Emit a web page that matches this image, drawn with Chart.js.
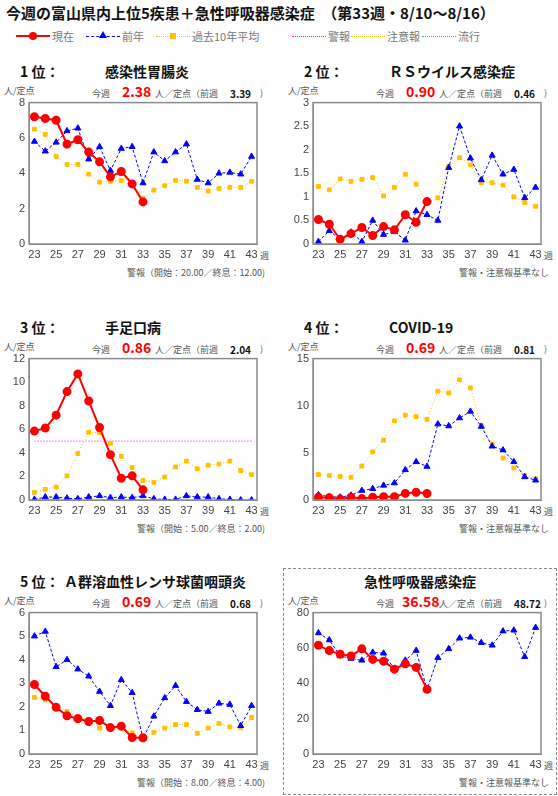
<!DOCTYPE html>
<html>
<head>
<meta charset="utf-8">
<script src="https://cdn.jsdelivr.net/npm/chart.js@4"></script>
<style>
  body { margin: 0; width: 558px; height: 796px; position: relative; background: #fff;
         font-family: "Noto Sans CJK JP", "Noto Sans", sans-serif; overflow: hidden; }
  .abs { position: absolute; white-space: nowrap; }
  .main { left: 6px; top: 2px; font-size: 15px; font-weight: bold; color: #111; }
  .leg { top: 28px; font-size: 11px; color: #777; display: flex; align-items: center; }
  .ln { display: inline-block; width: 34px; height: 0; margin-right: 2px; position: relative; }
  .rank { font-size: 14px; font-weight: bold; color: #111; }
  .name { font-size: 14px; font-weight: bold; color: #111; }
  .small { font-size: 9px; color: #555; }
  .cur { font-size: 14px; font-weight: bold; color: #f00; }
  .prev { font-size: 10px; font-weight: bold; color: #111; }
  canvas { position: absolute; }
</style>
</head>
<body>
<div class="abs main">今週の富山県内上位5疾患＋急性呼吸器感染症　（第33週・8/10～8/16）</div>
<div class="abs leg" style="left:16px"><span class="ln" style="border-top:2px solid #f00"><span style="position:absolute;left:13px;top:-5px;width:8px;height:8px;border-radius:50%;background:#f00"></span></span>現在</div>
<div class="abs leg" style="left:86px"><span class="ln" style="border-top:1px dashed #00f"><span style="position:absolute;left:13px;top:-6px;width:0;height:0;border-left:4px solid transparent;border-right:4px solid transparent;border-bottom:7px solid #00f"></span></span>前年</div>
<div class="abs leg" style="left:156px"><span class="ln" style="border-top:1px dotted #ffc000"><span style="position:absolute;left:14px;top:-4px;width:6px;height:6px;background:#ffc000"></span></span>過去10年平均</div>
<div class="abs leg" style="left:292px"><span class="ln" style="border-top:1px dotted #f0f"></span>警報</div>
<div class="abs leg" style="left:351px"><span class="ln" style="border-top:1px dotted #ffc000"></span>注意報</div>
<div class="abs leg" style="left:422px"><span class="ln" style="border-top:1px dotted #3c3"></span>流行</div>
<div class="abs" style="left:283px;top:568px;width:272px;height:225px;border:1px dashed #888"></div>

<script>
const weeks = [23,24,25,26,27,28,29,30,31,32,33,34,35,36,37,38,39,40,41,42,43];

const cur1 = [7.2, 7.1, 7.0, 5.65, 5.9, 5.2, 4.65, 3.8, 4.1, 3.4, 2.38];
const prev1 = [5.8, 5.25, 5.75, 6.4, 6.55, 4.8, 5.5, 4.15, 5.4, 5.5, 3.45, 5.2, 4.7, 5.2, 5.65, 3.65, 3.45, 4.0, 4.05, 3.95, 4.95];
const avg1 = [6.5, 6.2, 4.95, 4.5, 4.5, 3.95, 3.5, 3.55, 3.6, 3.3, 2.6, 3.05, 3.3, 3.6, 3.55, 3.2, 3.0, 3.15, 3.2, 3.2, 3.55];

const cur2 = [0.52, 0.42, 0.1, 0.22, 0.35, 0.18, 0.37, 0.3, 0.62, 0.46, 0.9];
const prev2 = [0.05, 0.28, 0.1, 0.25, 0.05, 0.5, 0.2, 0.26, 0.08, 0.7, 0.62, 0.5, 1.62, 2.5, 1.82, 1.36, 1.88, 1.48, 1.58, 0.98, 1.2];
const avg2 = [1.22, 1.15, 1.38, 1.33, 1.37, 1.41, 1.02, 1.2, 1.48, 1.27, 0.87, 0.98, 1.65, 1.83, 1.68, 1.3, 1.3, 1.25, 1.0, 0.88, 0.8];

const cur3 = [5.85, 6.1, 7.2, 9.2, 10.7, 8.4, 6.15, 3.85, 1.85, 2.05, 0.86];
const prev3 = [0.05, 0.25, 0.25, 0.15, 0.1, 0.25, 0.35, 0.2, 0.25, 0.2, 0.35, 0.1, 0.05, 0.05, 0.35, 0.25, 0.25, 0.1, 0.05, 0, 0];
const avg3 = [0.65, 0.9, 1.1, 2.05, 3.95, 5.75, 5.7, 4.8, 3.7, 2.75, 1.65, 1.5, 1.95, 2.8, 3.3, 2.65, 2.95, 3.05, 3.3, 2.5, 2.15];
const alarm3 = 5.0;

const cur4 = [0.3, 0.25, 0.1, 0.3, 0.15, 0.3, 0.35, 0.35, 0.7, 0.81, 0.69];
const prev4 = [0.55, 0.35, 0.3, 0.5, 1.0, 1.2, 1.55, 1.8, 3.2, 4.05, 3.55, 8.05, 7.85, 8.7, 9.4, 7.8, 5.7, 5.3, 4.05, 2.45, 2.1];
const avg4 = [2.7, 2.6, 2.5, 2.4, 3.6, 5.1, 6.35, 8.4, 9.0, 8.85, 8.55, 11.55, 11.35, 12.75, 11.9, 7.9, 5.95, 4.45, 3.4, 2.6, 2.25];

const cur5 = [2.95, 2.45, 1.98, 1.62, 1.5, 1.38, 1.42, 1.12, 1.18, 0.7, 0.69];
const prev5 = [5.0, 5.2, 3.7, 4.0, 3.6, 3.3, 2.65, 2.05, 3.15, 2.6, 0.65, 1.6, 2.38, 2.9, 2.22, 1.88, 1.8, 2.15, 2.1, 1.2, 2.05];
const avg5 = [2.4, 2.3, 2.0, 1.8, 1.6, 1.45, 1.1, 1.1, 1.1, 0.9, 0.6, 0.92, 1.1, 1.25, 1.25, 0.88, 1.1, 1.3, 1.15, 1.12, 1.55];

const cur6 = [61.5, 58.5, 56.5, 55.5, 59.5, 53.5, 52.5, 48, 51, 49, 36.58];
const prev6 = [68.5, 64.5, 55.5, 54, 53, 57.5, 57, 48, 53, 58.5, 36.5, 54.5, 59.5, 65.5, 66, 63, 61.5, 69.5, 70, 55, 71.5];

const panels = [
  { x: 0, y: 60, rank: "1 位：", name: "感染性胃腸炎", cur: cur1, prev: prev1, avg: avg1, max: 8, step: 2,
    now: "2.38", last: "3.39", foot: "警報（開始：20.00／終息：12.00)" },
  { x: 284, y: 60, rank: "2 位：", name: "ＲＳウイルス感染症", cur: cur2, prev: prev2, avg: avg2, max: 3, step: 0.5,
    now: "0.90", last: "0.46", foot: "警報・注意報基準なし" },
  { x: 0, y: 316, rank: "3 位：", name: "手足口病", cur: cur3, prev: prev3, avg: avg3, max: 12, step: 2, alarm: alarm3,
    now: "0.86", last: "2.04", foot: "警報（開始：5.00／終息：2.00)" },
  { x: 284, y: 316, rank: "4 位：", name: "COVID-19", cur: cur4, prev: prev4, avg: avg4, max: 15, step: 5,
    now: "0.69", last: "0.81", foot: "警報・注意報基準なし" },
  { x: 0, y: 570, rank: "5 位：", name: "Ａ群溶血性レンサ球菌咽頭炎", cur: cur5, prev: prev5, avg: avg5, max: 6, step: 1,
    now: "0.69", last: "0.68", foot: "警報（開始：8.00／終息：4.00)" },
  { x: 284, y: 570, rank: "", name: "急性呼吸器感染症", cur: cur6, prev: prev6, avg: null, max: 80, step: 20,
    now: "36.58", last: "48.72", foot: "警報・注意報基準なし" },
];

const frame = {
  id: "frame",
  afterDraw(chart) {
    const a = chart.chartArea, c = chart.ctx;
    c.save();
    c.strokeStyle = "#8a8a8a";
    c.lineWidth = 1.5;
    c.strokeRect(a.left, a.top, a.right - a.left, a.bottom - a.top);
    c.restore();
  }
};

function text(x, y, cls, s, extra) {
  const d = document.createElement("div");
  d.className = "abs " + cls;
  d.style.left = x + "px";
  d.style.top = y + "px";
  if (extra) d.style.cssText += extra;
  d.textContent = s;
  document.body.appendChild(d);
}

panels.forEach((p) => {
  const ox = p.x, oy = p.y;
  if (p.rank) {
    text(ox + 20, oy + 1, "rank", p.rank);
    text(ox + 105, oy + 1, "name", p.name, p.name.length > 10 ? "left:" + (ox + 64) + "px" : "");
  } else {
    text(ox + 80, oy + 1, "name", p.name);
  }
  text(ox + 4, oy + 24, "small", "人/定点");
  text(ox + 92, oy + 27, "small", "今週");
  text(ox + 122, oy + 21, "cur", p.now, p.now.length > 4 ? "left:" + (ox + 118) + "px" : "");
  text(ox + 155, oy + 27, "small", "人／定点（前週");
  text(ox + 230, oy + 26, "prev", p.last);
  text(ox + 260, oy + 26, "small", ")");
  text(ox + 260, oy + 189, "small", "週");
  text(ox + 0, oy + 206, "small", p.foot, "width:265px;text-align:right;");

  const cv = document.createElement("canvas");
  cv.style.left = (ox + 5) + "px";
  cv.style.top = (oy + 32) + "px";
  cv.style.width = "258px";
  cv.style.height = "175px";
  document.body.appendChild(cv);

  const sets = [
    { data: p.cur, borderColor: "#f00", backgroundColor: "#f00", borderWidth: 2,
      pointStyle: "circle", pointRadius: 3.5, order: 0 },
    { data: p.prev, borderColor: "#00f", backgroundColor: "#00f", borderWidth: 1, borderDash: [3, 2],
      pointStyle: "triangle", pointRadius: 3.5, order: 1 },
  ];
  if (p.avg) sets.push({ data: p.avg, borderColor: "#ffc000", backgroundColor: "#ffc000", borderWidth: 1,
    borderDash: [1, 2], pointStyle: "rect", pointRadius: 2.7, order: 2 });
  if (p.alarm) sets.push({ data: weeks.map(() => p.alarm), borderColor: "#f0f", borderWidth: 1,
    borderDash: [1, 2], pointRadius: 0, order: 3 });

  new Chart(cv, {
    type: "line",
    data: { labels: weeks, datasets: sets },
    options: {
      responsive: false,
      animation: false,
      layout: { padding: { top: 8, right: 5, left: 0, bottom: 0 } },
      plugins: { legend: { display: false }, tooltip: { enabled: false } },
      scales: {
        x: {
          offset: true,
          grid: { display: false, drawTicks: false },
          border: { color: "#8a8a8a" },
          ticks: { autoSkip: false, maxRotation: 0, color: "#444", font: { size: 11 }, padding: 4,
            callback: function (v, i) { return weeks[i] % 2 ? weeks[i] : ""; } },
          afterFit: (s) => { s.height = 23; },
        },
        y: {
          min: 0, max: p.max,
          grid: { display: false, drawTicks: false },
          border: { color: "#8a8a8a" },
          ticks: { stepSize: p.step, color: "#444", font: { size: 11 }, padding: 4,
            callback: (v) => String(v) },
          afterFit: (s) => { s.width = 24; },
        },
      },
    },
    plugins: [frame],
  });
});
</script>
</body>
</html>
